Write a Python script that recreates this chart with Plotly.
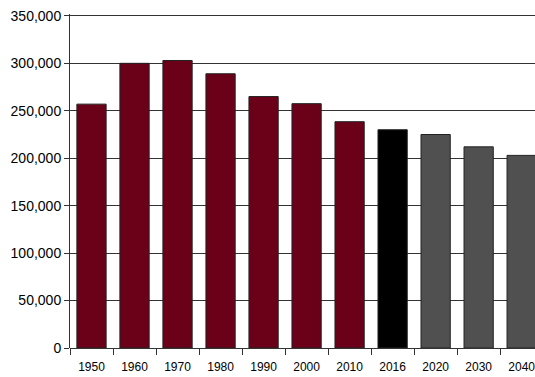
import plotly.graph_objs as go

years = ['1950', '1960', '1970', '1980', '1990', '2000', '2010', '2016', '2020', '2030', '2040']
population = [257000, 300000, 303000, 289000, 265000, 257500, 238500, 230000, 225000, 212000, 203000]
# historic / current / projected
period = ['hist'] * 7 + ['now'] + ['proj'] * 3
period_colors = {'hist': '#6b0019', 'now': '#000000', 'proj': '#505050'}

fig = go.Figure()
fig.add_trace(go.Bar(
    x=years, y=population,
    marker=dict(color=[period_colors[p] for p in period],
                line=dict(color='#222222', width=1)),
    width=0.68,
    showlegend=False,
))

fig.update_layout(
    width=535, height=377,
    margin=dict(l=70, r=0, t=14, b=29),
    plot_bgcolor='white', paper_bgcolor='white',
    font=dict(family='Liberation Sans, Arial, sans-serif', color='black'),
)
fig.update_xaxes(
    type='category', range=[-0.5, 10.31], automargin=False,
    tickson='boundaries', ticks='outside', ticklen=6, tickcolor='#333333',
    tickfont=dict(size=12), ticklabelstandoff=10, showgrid=False,
    showline=False,
)
fig.update_yaxes(
    range=[0, 352000], dtick=50000, tickformat=',d', automargin=False,
    ticks='outside', ticklen=5, tickcolor='#333333',
    tickfont=dict(size=14),
    showgrid=True, gridcolor='#333333', gridwidth=1,
    showline=True, linecolor='#333333', linewidth=1,
    zeroline=True, zerolinecolor='#333333', zerolinewidth=1,
)

# page body has a default margin, drop it so the figure fills the window
fig.write_html('out.html', config={'displayModeBar': False},
               post_script="document.body.style.margin='0';document.body.style.overflow='hidden';")
